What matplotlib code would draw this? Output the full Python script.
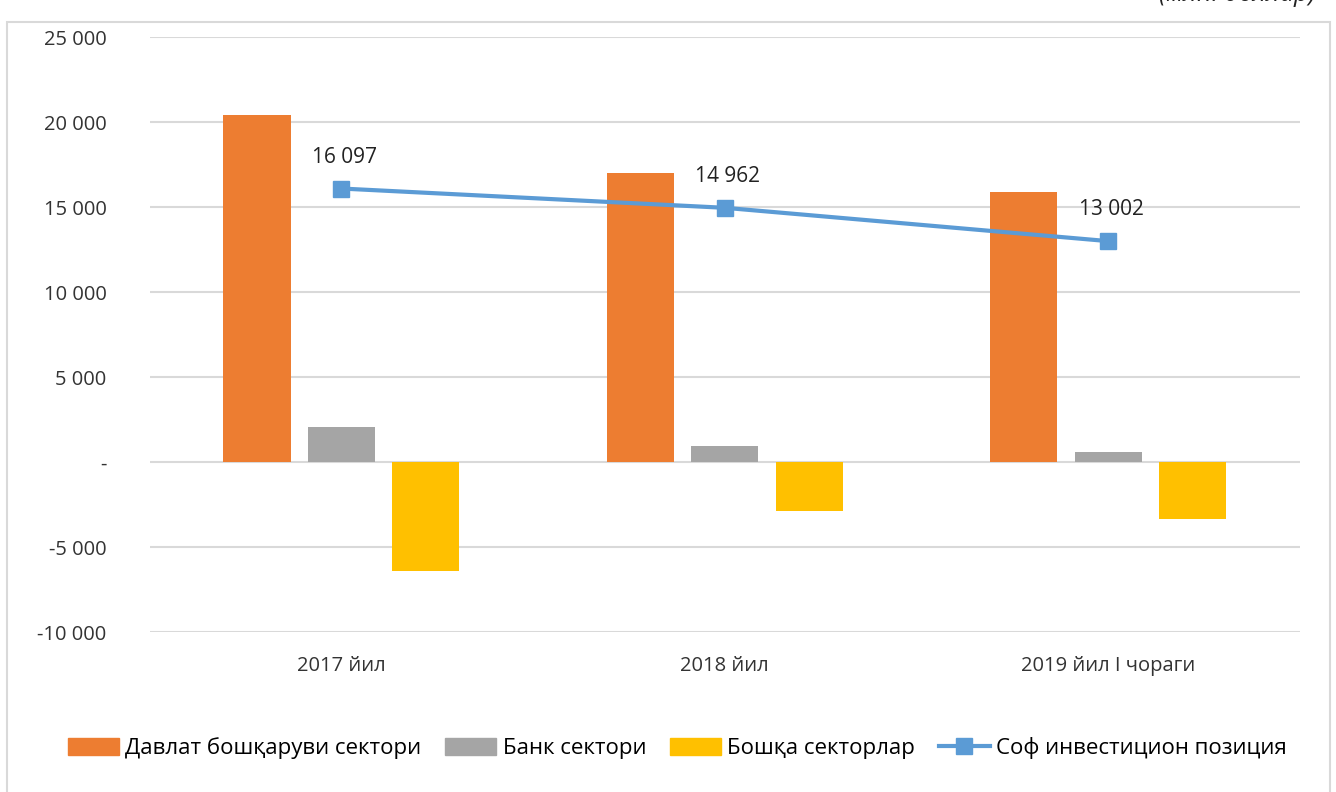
import matplotlib.pyplot as plt
import numpy as np
from matplotlib.patches import Rectangle
from matplotlib.lines import Line2D
from matplotlib.ticker import FuncFormatter

plt.rcParams['font.family'] = ['Open Sans', 'DejaVu Sans']

# data
categories = ['2017 йил', '2018 йил', '2019 йил I чораги']
government = [20400, 17000, 15900]
banks = [2060, 940, 590]
other = [-6400, -2900, -3350]
net_position = [16097, 14962, 13002]
net_labels = ['16 097', '14 962', '13 002']

series_names = ['Давлат бошқаруви сектори', 'Банк сектори',
                'Бошқа секторлар', 'Соф инвестицион позиция']
colors = ['#ed7d31', '#a5a5a5', '#ffc000', '#5b9bd5']


def fmt(v, pos):
    if abs(v) < 1e-9:
        return '-'
    return f"{int(v):,}".replace(',', ' ')


fig = plt.figure(figsize=(13.36, 7.92), dpi=100)
ax = fig.add_axes([0.112, 0.202, 0.861, 0.751])

x = np.arange(len(categories))
w = 0.175
step = 0.22
ax.bar(x - step, government, w, color=colors[0], zorder=3)
ax.bar(x, banks, w, color=colors[1], zorder=3)
ax.bar(x + step, other, w, color=colors[2], zorder=3)
ax.plot(x, net_position, color=colors[3], lw=3, marker='s', ms=11, zorder=4)

for xi, yi, lab in zip(x, net_position, net_labels):
    ax.annotate(lab, (xi, yi), xytext=(2, 15), textcoords='offset points',
                ha='center', va='bottom', fontsize=15, color='#222222')

ax.set_xlim(-0.5, 2.5)
ax.set_ylim(-10000, 25000)
ax.set_yticks(np.arange(-10000, 25001, 5000))
ax.yaxis.set_major_formatter(FuncFormatter(fmt))
ax.set_xticks(x)
ax.set_xticklabels(categories)
ax.tick_params(axis='both', length=0, labelsize=14.5, colors='#333333')
ax.tick_params(axis='y', pad=31)
ax.tick_params(axis='x', pad=17)
ax.grid(axis='y', color='#d9d9d9', lw=1.5, zorder=0)
for s in ax.spines.values():
    s.set_visible(False)

handles = [
    Rectangle((0, 0), 1, 1, color=colors[0]),
    Rectangle((0, 0), 1, 1, color=colors[1]),
    Rectangle((0, 0), 1, 1, color=colors[2]),
    Line2D([], [], color=colors[3], lw=3, marker='s', ms=11),
]
fig.legend(handles, series_names, loc='center', bbox_to_anchor=(0.507, 0.055),
           ncol=4, frameon=False, fontsize=16, handlelength=2.3,
           handleheight=0.8, columnspacing=1.05, handletextpad=0.3)

# outer chart frame
fig.patches.append(Rectangle((7 / 1336, -0.02), 1323 / 1336, 1.02 - 22 / 792,
                             transform=fig.transFigure, fill=False,
                             edgecolor='#d9d9d9', lw=1.5))
# unit caption, cut off at the top like in the source
fig.text(0.985, 1.008, '(млн. доллар)', ha='right', va='center',
         fontsize=18, style='italic', color='#222222')

fig.savefig('out.png', dpi=100, facecolor='white')
